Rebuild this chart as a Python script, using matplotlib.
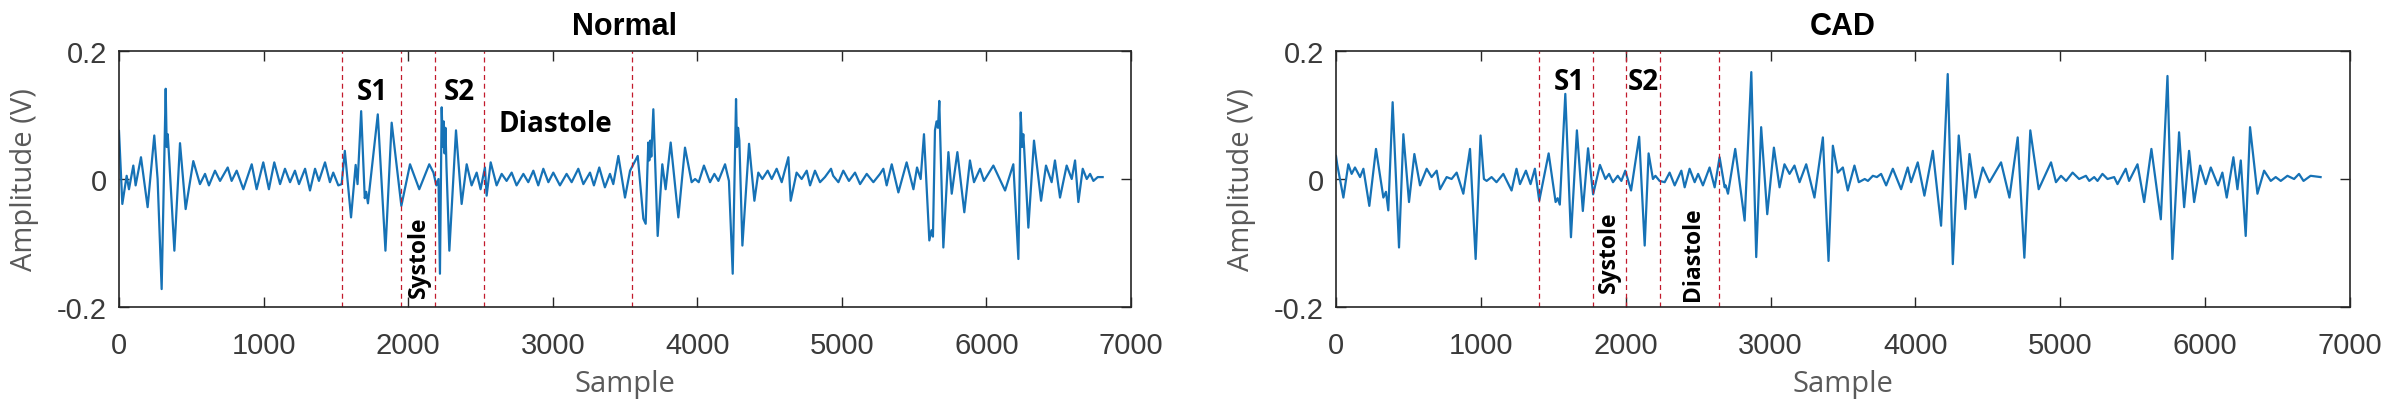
import matplotlib
matplotlib.use("Agg")
import matplotlib.pyplot as plt

# ---------------- data ----------------
normal_samples = [0, 23, 53, 69, 99, 115, 152, 198, 244, 267, 295, 323, 330, 337, 345, 383, 422, 461,
                  514, 560, 595, 622, 664, 699, 752, 779, 814, 860, 918, 952, 998, 1037, 1074, 1114,
                  1148, 1183, 1217, 1245, 1287, 1321, 1356, 1383, 1425, 1459, 1482, 1517, 1540,
                  1562, 1605, 1637, 1650, 1675, 1700, 1710, 1722, 1790, 1843, 1886, 1953,
                  2013, 2077, 2146, 2175, 2195, 2210, 2220, 2232, 2240, 2246, 2252, 2258, 2265,
                  2285, 2331, 2370, 2405, 2439, 2474, 2501, 2531, 2543, 2571, 2612, 2647, 2681,
                  2716, 2750, 2797, 2831, 2866, 2900, 2935, 2970, 3004, 3050, 3096, 3131, 3177,
                  3212, 3258, 3285, 3322, 3361, 3396, 3419, 3454, 3500, 3535, 3588, 3627, 3643,
                  3661, 3668, 3675, 3682, 3696, 3726, 3758, 3781, 3816, 3869, 3915, 3961, 3985,
                  4010, 4046, 4088, 4118, 4146, 4192, 4219, 4245, 4268, 4275, 4282, 4291, 4312,
                  4358, 4395, 4422, 4450, 4487, 4515, 4549, 4584, 4630, 4646, 4687, 4722, 4757,
                  4780, 4814, 4849, 4883, 4925, 4940, 4976, 5010, 5049, 5091, 5126, 5172, 5218,
                  5264, 5287, 5310, 5345, 5391, 5448, 5495, 5520, 5545, 5568, 5605, 5620, 5630,
                  5644, 5655, 5665, 5674, 5680, 5702, 5737, 5760, 5799, 5847, 5886, 5914, 5956,
                  5983, 6048, 6129, 6186, 6221, 6237, 6247, 6255, 6260, 6290, 6329, 6378, 6412,
                  6451, 6474, 6509, 6555, 6590, 6613, 6636, 6666, 6694, 6717, 6740, 6770, 6804]
normal_amp = [0.075, -0.039, 0.005, -0.016, 0.021, -0.010, 0.034, -0.044, 0.068, 0.000, -0.172, 0.141,
              0.050, 0.070, 0.040, -0.112, 0.056, -0.047, 0.028, -0.008, 0.008, -0.010, 0.013, -0.003,
              0.018, -0.003, 0.013, -0.016, 0.023, -0.016, 0.026, -0.016, 0.026, -0.008, 0.016, -0.005,
              0.013, -0.008, 0.016, -0.018, 0.016, -0.003, 0.026, -0.005, 0.010, -0.010, -0.008,
              0.044, -0.060, 0.022, -0.008, 0.106, -0.030, -0.020, -0.038, 0.101, -0.112, 0.088, -0.042,
              0.023, -0.016, 0.023, 0.010, -0.010, 0.000, -0.148, 0.112, 0.050, 0.090, 0.040, 0.080, 0.020,
              -0.112, 0.076, -0.039, 0.023, -0.010, 0.010, -0.016, 0.018, -0.026, 0.026, -0.010, 0.008,
              -0.003, 0.010, -0.010, 0.008, -0.005, 0.013, -0.010, 0.016, -0.005, 0.010, -0.010, 0.008,
              -0.005, 0.016, -0.008, 0.010, -0.010, 0.018, -0.013, 0.008, -0.008, 0.036, -0.029, 0.013,
              0.036, -0.062, -0.070, 0.057, 0.029, 0.060, 0.035, 0.109, -0.089, 0.023, -0.016, 0.057,
              -0.060, 0.049, -0.005, 0.000, -0.005, 0.021, -0.005, 0.008, -0.003, 0.023, -0.003, -0.148,
              0.125, 0.050, 0.080, 0.060, -0.104, 0.055, -0.034, 0.010, 0.000, 0.013, 0.000, 0.016,
              -0.005, 0.034, -0.034, 0.010, 0.000, 0.013, -0.010, 0.013, -0.005, 0.003, 0.016, 0.005,
              -0.005, 0.013, -0.003, 0.010, -0.008, 0.008, -0.005, 0.008, 0.016, -0.010, 0.023, -0.021,
              0.026, -0.016, 0.018, 0.000, 0.070, -0.096, -0.080, -0.090, 0.076, 0.090, 0.080, 0.122,
              0.070, -0.107, 0.042, -0.023, 0.042, -0.052, 0.029, -0.005, 0.016, -0.003, 0.021, -0.018,
              0.023, -0.125, 0.104, 0.050, 0.070, 0.052, -0.076, 0.060, -0.034, 0.021, -0.005, 0.029,
              -0.029, 0.021, 0.000, 0.029, -0.036, 0.016, 0.000, 0.008, -0.003, 0.003, 0.003]

cad_samples = [0, 8, 51, 85, 108, 131, 166, 189, 230, 276, 327, 345, 361, 391, 435, 465, 504, 541,
               580, 626, 660, 695, 718, 764, 798, 833, 879, 925, 964, 998, 1021, 1040, 1074, 1108,
               1155, 1212, 1246, 1270, 1311, 1343, 1373, 1403, 1468, 1516, 1530, 1545, 1583, 1622,
               1663, 1704, 1740, 1775, 1822, 1860, 1885, 1912, 1945, 1970, 1997, 2037, 2093, 2131,
               2158, 2188, 2205, 2234, 2269, 2303, 2338, 2384, 2407, 2441, 2476, 2500, 2533, 2579,
               2614, 2648, 2683, 2690, 2706, 2756, 2821, 2867, 2901, 2935, 2977, 3023, 3062, 3096,
               3131, 3165, 3200, 3246, 3303, 3361, 3400, 3430, 3464, 3499, 3533, 3579, 3609, 3650,
               3672, 3706, 3734, 3763, 3798, 3844, 3901, 3947, 3970, 4016, 4062, 4120, 4177, 4223,
               4258, 4299, 4345, 4373, 4414, 4465, 4511, 4591, 4649, 4706, 4752, 4793, 4851, 4936,
               4970, 5005, 5040, 5085, 5130, 5177, 5200, 5234, 5257, 5291, 5326, 5372, 5395, 5452,
               5475, 5533, 5579, 5629, 5694, 5740, 5774, 5820, 5855, 5889, 5924, 5965, 6004, 6039,
               6089, 6119, 6149, 6195, 6223, 6246, 6280, 6310, 6361, 6407, 6453, 6487, 6522, 6568,
               6614, 6648, 6679, 6728, 6797]
cad_amp = [0.036, 0.023, -0.029, 0.023, 0.008, 0.018, 0.003, 0.016, -0.042, 0.047, -0.029, -0.020,
           -0.049, 0.120, -0.107, 0.070, -0.036, 0.039, -0.010, 0.016, 0.003, 0.013, -0.016, 0.003,
           0.000, 0.010, -0.023, 0.047, -0.125, 0.068, 0.000, -0.003, 0.003, -0.005, 0.008, -0.018,
           0.016, -0.008, 0.013, -0.008, 0.016, -0.034, 0.040, -0.036, -0.030, -0.040, 0.133, -0.091,
           0.076, -0.050, 0.048, -0.024, 0.022, 0.000, 0.008, -0.005, 0.005, -0.003, 0.013, -0.018,
           0.066, -0.104, 0.040, 0.000, 0.005, -0.003, -0.005, 0.010, -0.010, 0.013, -0.013, 0.016,
           -0.005, 0.008, -0.010, 0.018, -0.013, 0.034, -0.013, -0.010, -0.023, 0.047, -0.065, 0.167,
           -0.122, 0.081, -0.055, 0.049, -0.013, 0.023, 0.008, 0.021, -0.005, 0.023, -0.029, 0.065,
           -0.128, 0.052, 0.010, 0.018, -0.018, 0.021, -0.005, 0.000, -0.003, 0.005, 0.003, 0.008,
           -0.010, 0.016, -0.016, 0.018, -0.005, 0.026, -0.026, 0.044, -0.073, 0.164, -0.133, 0.068,
           -0.047, 0.039, -0.029, 0.018, -0.005, 0.026, -0.029, 0.065, -0.123, 0.076, -0.016, 0.026,
           -0.005, 0.005, -0.003, 0.010, 0.000, 0.005, -0.003, 0.003, -0.003, 0.008, 0.000, 0.003,
           -0.008, 0.016, -0.003, 0.023, -0.036, 0.047, -0.063, 0.161, -0.125, 0.073, -0.044, 0.044,
           -0.036, 0.021, -0.008, 0.018, -0.010, 0.010, -0.029, 0.034, -0.016, 0.029, -0.089, 0.081,
           -0.023, 0.013, -0.003, 0.003, -0.003, 0.005, 0.000, 0.008, -0.003, 0.005, 0.003]

titles = ["Normal", "CAD"]
normal_bounds = [1540, 1950, 2186, 2527, 3545]
cad_bounds = [1402, 1775, 2003, 2234, 2643]
x_ticks = [0, 1000, 2000, 3000, 4000, 5000, 6000, 7000]
y_ticks = [-0.2, 0, 0.2]
y_ticklabels = ["-0.2", "0", "0.2"]

# annotations: (text, sample, amplitude, rotation)
normal_notes = [("S1", 1755, 0.125, 0), ("S2", 2357, 0.125, 0),
                ("Diastole", 3019, 0.0755, 0), ("Systole", 2075, -0.121, 90)]
cad_notes = [("S1", 1609, 0.1406, 0), ("S2", 2123, 0.1406, 0),
             ("Systole", 1884, -0.113, 90), ("Diastole", 2467, -0.116, 90)]

# ---------------- figure ----------------
W, H = 2392, 406
fig = plt.figure(figsize=(W / 100, H / 100), dpi=100)
fig.patch.set_facecolor("white")

ax_boxes = [(119, 52, 1131, 308), (1336, 52, 2350, 308)]
series = [(normal_samples, normal_amp, normal_bounds, normal_notes),
          (cad_samples, cad_amp, cad_bounds, cad_notes)]

line_color = "#1672b6"
spine_color = "#262626"

for (x0, y0, x1, y1), title, (xs, ys, bounds, notes) in zip(ax_boxes, titles, series):
    ax = fig.add_axes([x0 / W, (H - y1) / H, (x1 - x0) / W, (y1 - y0) / H])
    ax.plot(xs, ys, color=line_color, lw=1.6, solid_joinstyle="round")
    for b in bounds:
        ax.axvline(b, color="#c21a2c", lw=0.9, ls=(0, (4, 3)))
    for txt, sx, sy, rot in notes:
        if rot == 0:
            ax.text(sx, sy, txt, ha="center", va="baseline", fontsize=20,
                    fontweight="bold", family="Open Sans", color="black")
        else:
            ax.text(sx, sy, txt, ha="center", va="center", rotation=90, fontsize=16.5,
                    fontweight="bold", family="Open Sans", color="black")

    ax.set_xlim(0, 7000)
    ax.set_ylim(-0.2, 0.2)
    ax.set_xticks(x_ticks)
    ax.set_yticks(y_ticks)
    ax.set_yticklabels(y_ticklabels)
    ax.tick_params(direction="in", top=True, right=True, length=7, width=1,
                   color=spine_color, labelsize=21, labelcolor="#3a3a3a")
    ax.tick_params(axis="x", pad=17)
    ax.tick_params(axis="y", pad=8.5)
    for lab in ax.get_xticklabels() + ax.get_yticklabels():
        lab.set_family("Liberation Sans")
    for sp in ax.spines.values():
        sp.set_color(spine_color)
        sp.set_linewidth(1.2)

    ax.set_title(title, fontsize=22, fontweight="bold", family="Liberation Sans", pad=12)
    ax.set_xlabel("Sample", fontsize=21, color="#5a5a5a", family="Open Sans")
    ax.xaxis.set_label_coords(0.5, -0.242)
    ax.set_ylabel("Amplitude (V)", fontsize=21, color="#5a5a5a", family="Open Sans")
    ax.yaxis.set_label_coords(-0.0786, 0.5)

fig.savefig("out.png", dpi=100, facecolor="white")
